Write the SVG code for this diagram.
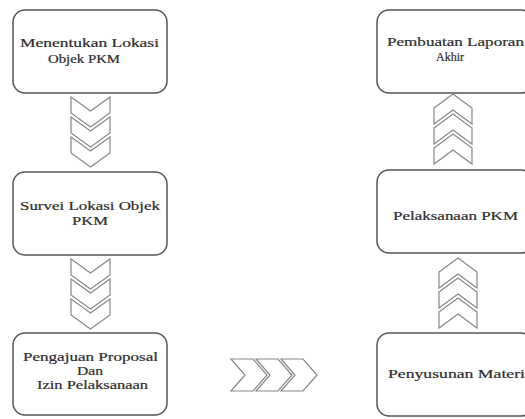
<svg xmlns="http://www.w3.org/2000/svg" xmlns:xlink="http://www.w3.org/1999/xlink" width="525" height="419" viewBox="0 0 525 419">
<style>
.box{fill:#fff;stroke:#555;stroke-width:1.5}
.lbl{font-family:'Liberation Serif','DejaVu Serif',serif;font-size:12px;fill:#2e2e2e;stroke:#2e2e2e;stroke-width:0.2}
.chev{fill:#fff;stroke:#888;stroke-width:1.2;stroke-linejoin:miter}
</style>
<defs>
<path id="down" d="M0,0 L19.5,14 L39,0 L39,16 L19.5,30 L0,16 Z"/>
<path id="up" d="M0,14 L19,0 L38,14 L38,30 L19,16 L0,30 Z"/>
<path id="right" d="M0,0 L22,0 L36,16 L22,32 L0,32 L14,16 Z"/>
</defs>
<rect width="525" height="419" fill="#fff"/>
<g id="connectors">
<g class="chev">
<use xlink:href="#down" x="71" y="97"/>
<use xlink:href="#down" x="71" y="117"/>
<use xlink:href="#down" x="71" y="137"/>
<use xlink:href="#down" x="71" y="259"/>
<use xlink:href="#down" x="71" y="279"/>
<use xlink:href="#down" x="71" y="299"/>
<use xlink:href="#right" x="231" y="359"/>
<use xlink:href="#right" x="256" y="359"/>
<use xlink:href="#right" x="281" y="359"/>
<use xlink:href="#up" x="439" y="298"/>
<use xlink:href="#up" x="439" y="278"/>
<use xlink:href="#up" x="439" y="258"/>
<use xlink:href="#up" x="434" y="134"/>
<use xlink:href="#up" x="434" y="114"/>
<use xlink:href="#up" x="434" y="94"/>
</g>
</g>
<g id="n1">
<rect class="box" x="13" y="10" width="154" height="83" rx="12"/>
<text class="lbl" font-family="Liberation Serif, DejaVu Serif, serif" x="20" y="47" textLength="139" lengthAdjust="spacingAndGlyphs">Menentukan Lokasi</text>
<text class="lbl" font-family="Liberation Serif, DejaVu Serif, serif" x="48" y="63" textLength="72" lengthAdjust="spacingAndGlyphs">Objek PKM</text>
</g>
<g id="n2">
<rect class="box" x="13" y="172" width="154" height="83" rx="12"/>
<text class="lbl" font-family="Liberation Serif, DejaVu Serif, serif" x="20" y="210" textLength="140" lengthAdjust="spacingAndGlyphs">Survei Lokasi Objek</text>
<text class="lbl" font-family="Liberation Serif, DejaVu Serif, serif" x="72" y="225" textLength="36" lengthAdjust="spacingAndGlyphs">PKM</text>
</g>
<g id="n3">
<rect class="box" x="13" y="333" width="154" height="82" rx="12"/>
<text class="lbl" font-family="Liberation Serif, DejaVu Serif, serif" x="23" y="361" textLength="135" lengthAdjust="spacingAndGlyphs">Pengajuan Proposal</text>
<text class="lbl" font-family="Liberation Serif, DejaVu Serif, serif" font-size="13" x="77" y="375" textLength="26" lengthAdjust="spacingAndGlyphs">Dan</text>
<text class="lbl" font-family="Liberation Serif, DejaVu Serif, serif" x="37" y="389" textLength="111" lengthAdjust="spacingAndGlyphs">Izin Pelaksanaan</text>
</g>
<g id="n4">
<rect class="box" x="377" y="333" width="156" height="83" rx="12"/>
<text class="lbl" font-family="Liberation Serif, DejaVu Serif, serif" x="388" y="378" textLength="137" lengthAdjust="spacingAndGlyphs">Penyusunan Materi</text>
</g>
<g id="n5">
<rect class="box" x="377" y="170" width="156" height="83" rx="12"/>
<text class="lbl" font-family="Liberation Serif, DejaVu Serif, serif" x="393" y="220" textLength="125" lengthAdjust="spacingAndGlyphs">Pelaksanaan PKM</text>
</g>
<g id="n6">
<rect class="box" x="377" y="10" width="156" height="83" rx="12"/>
<text class="lbl" font-family="Liberation Serif, DejaVu Serif, serif" x="387" y="46" textLength="137" lengthAdjust="spacingAndGlyphs">Pembuatan Laporan</text>
<text class="lbl" font-family="Liberation Serif, DejaVu Serif, serif" font-size="13" x="436" y="61" textLength="28" lengthAdjust="spacingAndGlyphs">Akhir</text>
</g>
</svg>
